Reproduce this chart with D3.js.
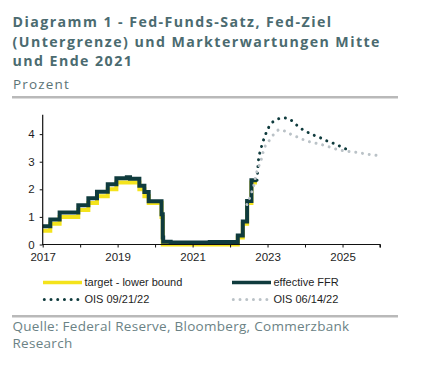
<!DOCTYPE html>
<html><head><meta charset="utf-8">
<script src="https://cdn.jsdelivr.net/npm/d3@7"></script>
<style>
html,body{margin:0;padding:0;background:#fff;}
svg{display:block;}
</style></head>
<body>
<svg id="chart" width="439" height="368"></svg>
<script>
// ---------- data ----------
const titleLines = ["Diagramm 1 - Fed-Funds-Satz, Fed-Ziel", "(Untergrenze) und Markterwartungen Mitte", "und Ende 2021"];
const subtitle = "Prozent";
const sourceLines = ["Quelle: Federal Reserve, Bloomberg, Commerzbank", "Research"];

const targetDates = ["2017-01-01","2017-03-16","2017-06-15","2017-12-14","2018-03-22","2018-06-14","2018-09-27","2018-12-20","2019-08-01","2019-09-19","2019-10-31","2020-03-04","2020-03-16","2022-03-17","2022-05-05","2022-06-16","2022-07-28","2022-09-20"];
const targetValues = [0.50,0.75,1.00,1.25,1.50,1.75,2.00,2.25,2.00,1.75,1.50,1.00,0.00,0.25,0.75,1.50,2.25,2.25];

const effrDates = ["2017-01-01","2017-03-16","2017-06-15","2017-12-14","2018-03-22","2018-06-14","2018-09-27","2018-12-20","2019-04-01","2019-05-02","2019-08-01","2019-09-19","2019-10-31","2020-03-04","2020-03-16","2020-03-20","2020-06-01","2021-06-17","2022-03-17","2022-05-05","2022-06-16","2022-07-28","2022-09-20"];
const effrValues = [0.66,0.91,1.16,1.42,1.68,1.91,2.18,2.40,2.44,2.38,2.13,1.90,1.57,1.10,0.25,0.10,0.07,0.09,0.33,0.83,1.58,2.33,2.33];

const ois0921Dates = ["2022-09-21","2022-10-07","2022-10-23","2022-11-10","2022-12-02","2022-12-28","2023-01-30","2023-03-29","2023-06-03","2023-08-08","2023-10-01","2023-11-29","2024-01-26","2024-03-28","2024-05-29","2024-07-30","2024-10-08","2024-12-13","2025-02-17"];
const ois0921Values = [2.33,3.13,3.38,3.64,3.88,4.13,4.35,4.52,4.59,4.53,4.36,4.19,4.07,3.96,3.87,3.76,3.66,3.55,3.44];

const ois0614Dates = ["2022-06-14","2022-07-01","2022-07-23","2022-08-14","2022-09-13","2022-10-07","2022-10-31","2022-11-18","2022-12-10","2023-01-23","2023-03-04","2023-04-28","2023-06-25","2023-08-29","2023-10-30","2024-01-04","2024-03-10","2024-05-22","2024-07-19","2024-10-01","2024-12-06","2025-02-17","2025-04-20","2025-07-02","2025-09-06","2025-11-14","2026-01-01"];
const ois0614Values = [1.45,1.58,1.82,2.05,2.56,2.83,3.07,3.33,3.57,3.79,4.00,4.16,4.10,3.97,3.88,3.77,3.70,3.64,3.58,3.49,3.42,3.38,3.35,3.31,3.27,3.24,3.20];

const yTicks = [0,1,2,3,4];
const xTickYears = [2017,2018,2019,2020,2021,2022,2023,2024,2025,2026];
const xTickLabels = ["2017","","2019","","2021","","2023","","2025",""];
const legendLabels = ["target - lower bound","effective FFR","OIS 09/21/22","OIS 06/14/22"];

// ---------- styles ----------
const C = {title:"#4b6b70", sub:"#5b7376", src:"#6b8285", rule:"#b9b9b9", yellow:"#f4e31c", dark:"#0f3b3d", grey:"#bac2c7", text:"#1e1e1e", axis:"#111"};
const headFont = "'Open Sans', 'Noto Sans', sans-serif";

const svg = d3.select("#chart");
const parse = d3.timeParse("%Y-%m-%d");

function fitWidth(sel, target){
  const n = sel.node();
  const w = n.getComputedTextLength();
  return (target - w)/n.textContent.length;
}

// titles
const titleG = svg.append("g");
titleLines.forEach((t,i)=>{
  titleG.append("text").attr("x",12.5).attr("y",27+i*19.6)
    .attr("font-family",headFont).attr("font-weight","bold")
    .attr("font-size",14.2).attr("fill",C.title).text(t);
});
titleG.selectAll("text").attr("letter-spacing", fitWidth(titleG.select("text"), 320));

const subT = svg.append("text").attr("x",13).attr("y",89).attr("font-family",headFont)
  .attr("font-size",13.5).attr("fill",C.sub).text(subtitle);
subT.attr("letter-spacing", fitWidth(subT,57));

svg.append("rect").attr("x",12).attr("y",96).attr("width",386).attr("height",2.5).attr("fill",C.rule);
svg.append("rect").attr("x",12).attr("y",315).attr("width",386).attr("height",2.5).attr("fill",C.rule);

const srcG = svg.append("g");
sourceLines.forEach((t,i)=>{
  srcG.append("text").attr("x",12.5).attr("y",331+i*16.5).attr("font-family",headFont)
    .attr("font-size",13.5).attr("fill",C.src).text(t);
});
srcG.selectAll("text").attr("letter-spacing", fitWidth(srcG.select("text"),337));

// scales
const x = d3.scaleTime().domain([new Date(2017,0,1), new Date(2026,0,1)]).range([42.7,380]);
const y = d3.scaleLinear().domain([0,4.7]).range([244.5,114.8]);

const toPts = (ds,vs)=>ds.map((d,i)=>({d:parse(d),v:vs[i]}));
const target = toPts(targetDates,targetValues);
const effr = toPts(effrDates,effrValues);
const ois1 = toPts(ois0921Dates,ois0921Values);
const ois2 = toPts(ois0614Dates,ois0614Values);

const stepLine = d3.line().x(p=>x(p.d)).y(p=>y(p.v)).curve(d3.curveStepAfter);
const smoothLine = d3.line().x(p=>x(p.d)).y(p=>y(p.v)).curve(d3.curveMonotoneX);

const plot = svg.append("g");
plot.append("path").datum(target).attr("d",stepLine).attr("fill","none").attr("stroke",C.yellow).attr("stroke-width",4);
plot.append("path").datum(effr).attr("d",stepLine).attr("fill","none").attr("stroke",C.dark).attr("stroke-width",4);
plot.append("path").datum(ois1).attr("d",smoothLine).attr("fill","none").attr("stroke",C.dark).attr("stroke-width",3)
  .attr("stroke-linecap","round").attr("stroke-dasharray","0.01 6.8");
plot.append("path").datum(ois2).attr("d",smoothLine).attr("fill","none").attr("stroke",C.grey).attr("stroke-width",3)
  .attr("stroke-linecap","round").attr("stroke-dasharray","0.01 6.8");

// axes
const xAxis = d3.axisBottom(x).tickValues(xTickYears.map(yr=>new Date(yr,0,1)))
  .tickSize(3).tickFormat((d,i)=>xTickLabels[i]);
const gx = svg.append("g").attr("transform",`translate(0,${y(0)})`).call(xAxis);
gx.select(".domain").attr("stroke",C.axis).attr("stroke-width",1.2).attr("d",`M${x.range()[0]},0.5V0H${x.range()[1]}V3`);
gx.selectAll(".tick line").attr("stroke",C.axis);
gx.selectAll(".tick text").attr("font-family","'Liberation Sans', Arial, sans-serif").attr("font-size",11.5).attr("fill",C.text).attr("dy","0.95em");

const yAxis = d3.axisLeft(y).tickValues(yTicks).tickSize(3).tickPadding(5).tickFormat(d3.format("d"));
const gy = svg.append("g").attr("transform",`translate(${x.range()[0]},0)`).call(yAxis);
gy.select(".domain").attr("stroke",C.axis).attr("stroke-width",1.2).attr("d",`M0,${y(0)}V${y.range()[1]}`);
gy.selectAll(".tick line").attr("stroke",C.axis);
gy.selectAll(".tick text").attr("font-family","'Liberation Sans', Arial, sans-serif").attr("font-size",11.5).attr("fill",C.text);

// legend
const legend = svg.append("g").attr("font-family","'Liberation Sans', Arial, sans-serif").attr("font-size",11).attr("fill",C.text);
const legItems = [
  {lx:43, ly:282.5, color:C.yellow, dotted:false},
  {lx:232, ly:282.5, color:C.dark, dotted:false},
  {lx:43, ly:299.5, color:C.dark, dotted:true},
  {lx:232, ly:299.5, color:C.grey, dotted:true}
];
legItems.forEach((it,i)=>{
  const ln = legend.append("line").attr("x1",it.lx+(it.dotted?1.3:0)).attr("x2",it.lx+(it.dotted?37:39)).attr("y1",it.ly).attr("y2",it.ly)
    .attr("stroke",it.color).attr("stroke-width",it.dotted?3:3.5);
  if(it.dotted) ln.attr("stroke-linecap","round").attr("stroke-dasharray","0.01 6.7");
  legend.append("text").attr("x",it.lx+41.5).attr("y",it.ly).attr("dy","0.36em").text(legendLabels[i]);
});
</script>
</body></html>
